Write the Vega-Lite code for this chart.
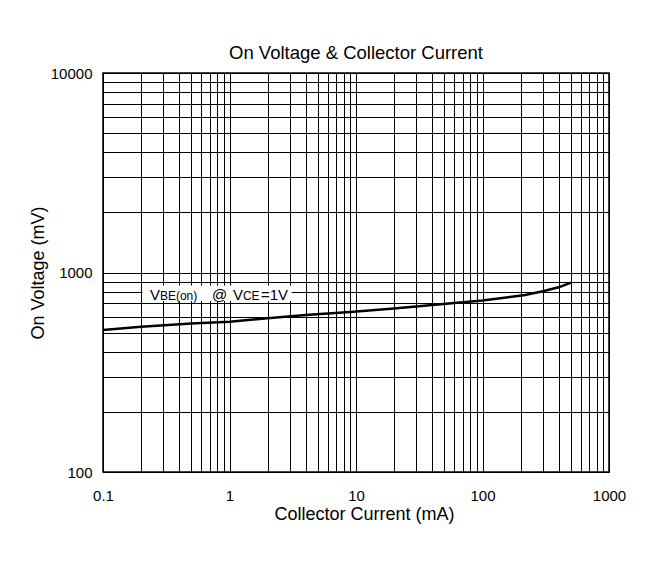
{
  "$schema": "https://vega.github.io/schema/vega-lite/v6.json",
  "background": "white",
  "autosize": {"type": "none"},
  "padding": {"left": 103, "top": 73, "right": 47, "bottom": 97},
  "width": 506,
  "height": 399,
  "title": {
    "text": "On Voltage & Collector Current",
    "fontSize": 18.5,
    "fontWeight": "normal",
    "color": "black",
    "anchor": "middle",
    "offset": 4
  },
  "layer": [
    {
      "data": {
        "values": [
          {"current": 0.1, "voltage": 515},
          {"current": 0.2, "voltage": 535},
          {"current": 0.5, "voltage": 555},
          {"current": 1, "voltage": 567},
          {"current": 2, "voltage": 589},
          {"current": 4, "voltage": 612},
          {"current": 9, "voltage": 634},
          {"current": 20, "voltage": 660},
          {"current": 40, "voltage": 687},
          {"current": 100, "voltage": 723},
          {"current": 217, "voltage": 771},
          {"current": 300, "voltage": 806},
          {"current": 400, "voltage": 843},
          {"current": 500, "voltage": 889}
        ]
      },
      "mark": {"type": "line", "color": "black", "strokeWidth": 2.5, "clip": true},
      "encoding": {
        "x": {
          "field": "current",
          "type": "quantitative",
          "title": "Collector Current (mA)",
          "scale": {"type": "log", "domain": [0.1, 1000], "nice": false},
          "axis": {
            "values": [0.1, 0.2, 0.3, 0.4, 0.5, 0.6, 0.7, 0.8, 0.9, 1, 2, 3, 4, 5, 6, 7, 8, 9, 10, 20, 30, 40, 50, 60, 70, 80, 90, 100, 200, 300, 400, 500, 600, 700, 800, 900, 1000],
            "labelExpr": "indexof([0.1, 1, 10, 100, 1000], datum.value) >= 0 ? format(datum.value, '~g') : ''",
            "labelOverlap": false,
            "labelFlush": false,
            "labelBound": false,
            "labelPadding": 16,
            "titlePadding": 2,
            "titleX": 261
          }
        },
        "y": {
          "field": "voltage",
          "type": "quantitative",
          "title": "On Voltage (mV)",
          "scale": {"type": "log", "domain": [100, 10000], "nice": false},
          "axis": {
            "values": [100, 200, 300, 400, 500, 600, 700, 800, 900, 1000, 2000, 3000, 4000, 5000, 6000, 7000, 8000, 9000, 10000],
            "labelExpr": "indexof([100, 1000, 10000], datum.value) >= 0 ? format(datum.value, 'd') : ''",
            "labelOverlap": false,
            "labelFlush": false,
            "labelBound": false,
            "labelPadding": 11,
            "titlePadding": 3
          }
        }
      }
    },
    {
      "data": {"values": [{"note": "VBE(on) @ VCE=1V"}]},
      "layer": [
        {
          "mark": {"type": "rect", "color": "white", "opacity": 1},
          "encoding": {
            "x": {"datum": 0.205, "type": "quantitative"},
            "x2": {"datum": 3.1},
            "y": {"datum": 720, "type": "quantitative"},
            "y2": {"datum": 860}
          }
        },
        {
          "mark": {"type": "text", "align": "left", "baseline": "alphabetic", "fontSize": 15, "dx": 0},
          "encoding": {
            "x": {"datum": 0.235, "type": "quantitative"},
            "y": {"datum": 730, "type": "quantitative"},
            "text": {"value": "V"}
          }
        },
        {
          "mark": {"type": "text", "align": "left", "baseline": "alphabetic", "fontSize": 12, "dx": 10},
          "encoding": {
            "x": {"datum": 0.235, "type": "quantitative"},
            "y": {"datum": 730, "type": "quantitative"},
            "text": {"value": "BE(on)"}
          }
        },
        {
          "mark": {"type": "text", "align": "left", "baseline": "alphabetic", "fontSize": 15, "dx": 62},
          "encoding": {
            "x": {"datum": 0.235, "type": "quantitative"},
            "y": {"datum": 730, "type": "quantitative"},
            "text": {"value": "@"}
          }
        },
        {
          "mark": {"type": "text", "align": "left", "baseline": "alphabetic", "fontSize": 15, "dx": 83},
          "encoding": {
            "x": {"datum": 0.235, "type": "quantitative"},
            "y": {"datum": 730, "type": "quantitative"},
            "text": {"value": "V"}
          }
        },
        {
          "mark": {"type": "text", "align": "left", "baseline": "alphabetic", "fontSize": 12, "dx": 93},
          "encoding": {
            "x": {"datum": 0.235, "type": "quantitative"},
            "y": {"datum": 730, "type": "quantitative"},
            "text": {"value": "CE"}
          }
        },
        {
          "mark": {"type": "text", "align": "left", "baseline": "alphabetic", "fontSize": 15, "dx": 111},
          "encoding": {
            "x": {"datum": 0.235, "type": "quantitative"},
            "y": {"datum": 730, "type": "quantitative"},
            "text": {"value": "=1V"}
          }
        }
      ]
    }
  ],
  "config": {
    "font": "Liberation Sans",
    "view": {"stroke": "black", "strokeWidth": 1.5},
    "axis": {
      "grid": true,
      "gridColor": "black",
      "gridOpacity": 1,
      "gridWidth": 1,
      "ticks": false,
      "domain": false,
      "labelFont": "Liberation Sans",
      "labelFontSize": 15,
      "labelColor": "black",
      "titleFont": "Liberation Sans",
      "titleFontSize": 18,
      "titleFontWeight": "normal",
      "titleColor": "black"
    },
    "text": {"font": "Liberation Sans", "color": "black"},
    "title": {"font": "Liberation Sans"}
  }
}
